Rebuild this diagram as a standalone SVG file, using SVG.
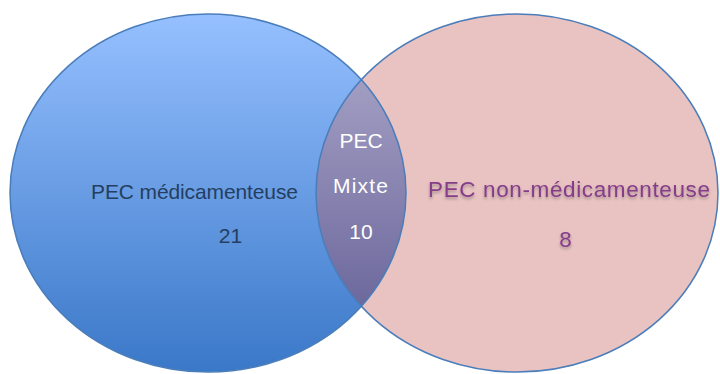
<svg xmlns="http://www.w3.org/2000/svg" width="720" height="374" viewBox="0 0 720 374">
  <style>
    .lbl { font-family: "Liberation Sans", Arial, sans-serif; font-size: 21px; text-anchor: middle; }
    .big { font-size: 22.5px; }
    .dark { fill: #243F60; }
    .white { fill: #FFFFFF; }
    .purple { fill: #853C8A; }
    .edge { fill: none; stroke: #4A7DBA; stroke-width: 1.5; }
  </style>
  <defs>
    <linearGradient id="gBlue" x1="0" y1="0" x2="0" y2="1">
      <stop offset="0" stop-color="#96C0FF"/>
      <stop offset="1" stop-color="#3A78C8"/>
    </linearGradient>
    <linearGradient id="gMix" gradientUnits="userSpaceOnUse" x1="0" y1="80" x2="0" y2="308">
      <stop offset="0" stop-color="#A29DC2"/>
      <stop offset="1" stop-color="#6C689C"/>
    </linearGradient>
    <clipPath id="clipLeft">
      <ellipse cx="208" cy="193" rx="198" ry="179"/>
    </clipPath>
    <filter id="shadow" x="-10%" y="-30%" width="120%" height="160%">
      <feDropShadow dx="0" dy="2" stdDeviation="1.5" flood-color="#000" flood-opacity="0.3"/>
    </filter>
  </defs>

  <g id="set-medicamenteuse">
    <ellipse cx="208" cy="193" rx="198" ry="179" fill="url(#gBlue)"/>
  </g>
  <g id="set-non-medicamenteuse">
    <ellipse cx="517" cy="193" rx="201" ry="179" fill="#E8C3C2"/>
  </g>
  <g id="set-mixte">
    <ellipse cx="517" cy="193" rx="201" ry="179" fill="url(#gMix)" clip-path="url(#clipLeft)"/>
  </g>
  <g id="outlines">
    <ellipse class="edge" cx="208" cy="193" rx="198" ry="179"/>
    <ellipse class="edge" cx="517" cy="193" rx="201" ry="179"/>
  </g>

  <g id="label-medicamenteuse">
    <text class="lbl dark" x="194.5" y="199" textLength="207" lengthAdjust="spacing">PEC médicamenteuse</text>
    <text class="lbl dark" x="230.5" y="243">21</text>
  </g>
  <g id="label-mixte">
    <text class="lbl white" x="361" y="148">PEC</text>
    <text class="lbl white" x="360.5" y="193" textLength="55" lengthAdjust="spacing">Mixte</text>
    <text class="lbl white" x="361" y="239">10</text>
  </g>
  <g id="label-non-medicamenteuse" filter="url(#shadow)">
    <text class="lbl big purple" x="569" y="197" textLength="282" lengthAdjust="spacing">PEC non-médicamenteuse</text>
    <text class="lbl big purple" x="565.5" y="247">8</text>
  </g>
</svg>
